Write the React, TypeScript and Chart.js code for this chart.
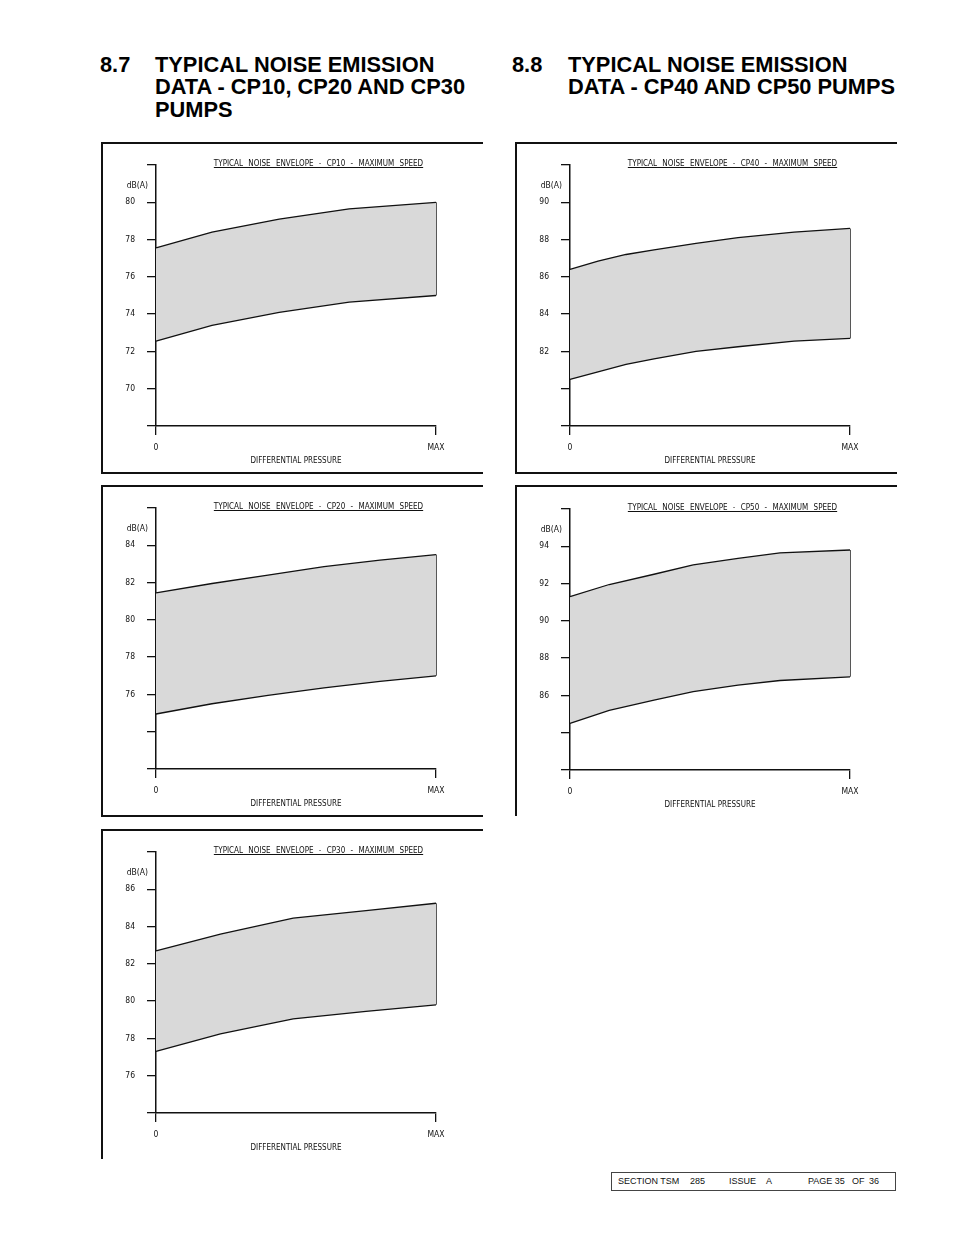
import React, { useEffect, useRef } from 'react';
import { Chart, registerables } from 'chart.js';

Chart.register(...registerables);

// ---- Data ----
const xTickLabels = ['0', 'MAX'];
const xAxisTitle = 'DIFFERENTIAL PRESSURE';
const yUnit = 'dB(A)';

const xCP10 = [0, 0.2, 0.44, 0.69, 1.0];
const upperCP10 = [77.55, 78.4, 79.1, 79.65, 80.0];
const lowerCP10 = [72.55, 73.4, 74.1, 74.65, 75.0];
const yRangeCP10 = [68, 82];
const yLabelsCP10 = [70, 72, 74, 76, 78, 80];

const xCP20 = [0, 0.2, 0.4, 0.6, 0.8, 1.0];
const upperCP20 = [81.45, 81.95, 82.4, 82.85, 83.2, 83.5];
const lowerCP20 = [74.95, 75.5, 75.95, 76.35, 76.7, 77.0];
const yRangeCP20 = [72, 86];
const yLabelsCP20 = [76, 78, 80, 82, 84];

const xCP30 = [0, 0.23, 0.49, 0.75, 1.0];
const upperCP30 = [82.7, 83.6, 84.45, 84.85, 85.25];
const lowerCP30 = [77.3, 78.25, 79.05, 79.45, 79.8];
const yRangeCP30 = [74, 88];
const yLabelsCP30 = [76, 78, 80, 82, 84, 86];

const xCP40 = [0, 0.1, 0.2, 0.3, 0.45, 0.6, 0.8, 1.0];
const upperCP40 = [86.4, 86.85, 87.2, 87.45, 87.8, 88.1, 88.4, 88.6];
const lowerCP40 = [80.5, 80.9, 81.3, 81.6, 82.0, 82.25, 82.55, 82.7];
const yRangeCP40 = [78, 92];
const yLabelsCP40 = [82, 84, 86, 88, 90];

const xCP50 = [0, 0.14, 0.3, 0.44, 0.6, 0.75, 1.0];
const upperCP50 = [91.3, 91.95, 92.5, 93.0, 93.35, 93.65, 93.8];
const lowerCP50 = [84.5, 85.2, 85.75, 86.2, 86.55, 86.8, 87.0];
const yRangeCP50 = [82, 96];
const yLabelsCP50 = [86, 88, 90, 92, 94];

// ---- Layout ----
const CAD_FONT = '"DejaVu Sans Condensed", "Liberation Sans Narrow", "DejaVu Sans", sans-serif';
const INK = '#111';
const FILL = '#d9d9d9';
const PAD_L = 54;
const PAD_T = 22;
const PLOT_W = 280;
const PLOT_H = 261;
const PAD_R = 48;
const PAD_B = 46;

type Spec = {
  pump: string;
  x: number[];
  upper: number[];
  lower: number[];
  yRange: number[];
  yLabels: number[];
  areaLeft: number;
  areaTop: number;
  frame: { x: number; y: number; w: number; h: number; bottom: boolean };
};

const specs: Spec[] = [
  { pump: 'CP10', x: xCP10, upper: upperCP10, lower: lowerCP10, yRange: yRangeCP10, yLabels: yLabelsCP10,
    areaLeft: 156, areaTop: 165, frame: { x: 102, y: 143, w: 382, h: 330, bottom: true } },
  { pump: 'CP40', x: xCP40, upper: upperCP40, lower: lowerCP40, yRange: yRangeCP40, yLabels: yLabelsCP40,
    areaLeft: 570, areaTop: 165, frame: { x: 516, y: 143, w: 382, h: 330, bottom: true } },
  { pump: 'CP20', x: xCP20, upper: upperCP20, lower: lowerCP20, yRange: yRangeCP20, yLabels: yLabelsCP20,
    areaLeft: 156, areaTop: 508, frame: { x: 102, y: 486, w: 382, h: 330, bottom: true } },
  { pump: 'CP50', x: xCP50, upper: upperCP50, lower: lowerCP50, yRange: yRangeCP50, yLabels: yLabelsCP50,
    areaLeft: 570, areaTop: 509, frame: { x: 516, y: 486, w: 382, h: 329, bottom: false } },
  { pump: 'CP30', x: xCP30, upper: upperCP30, lower: lowerCP30, yRange: yRangeCP30, yLabels: yLabelsCP30,
    areaLeft: 156, areaTop: 852, frame: { x: 102, y: 830, w: 382, h: 328, bottom: false } },
];

function NoiseChart({ spec }: { spec: Spec }) {
  const ref = useRef<HTMLCanvasElement>(null);

  useEffect(() => {
    if (!ref.current) return;
    const last = spec.x.length - 1;
    const font = { family: CAD_FONT, size: 8.5 };
    const titleFont = { family: CAD_FONT, size: 8 };
    const chart = new Chart(ref.current, {
      type: 'line',
      data: {
        datasets: [
          {
            data: spec.x.map((x, i) => ({ x, y: spec.upper[i] })),
            borderColor: INK, borderWidth: 1.3, pointRadius: 0, fill: false, tension: 0, clip: false,
          },
          {
            data: spec.x.map((x, i) => ({ x, y: spec.lower[i] })),
            borderColor: INK, borderWidth: 1.3, pointRadius: 0, fill: '-1', backgroundColor: FILL, tension: 0, clip: false,
          },
          {
            data: [{ x: spec.x[last], y: spec.upper[last] }, { x: spec.x[last], y: spec.lower[last] }],
            borderColor: INK, borderWidth: 1.4, pointRadius: 0, fill: false, clip: false,
          },
        ],
      },
      options: {
        animation: false,
        responsive: false,
        maintainAspectRatio: false,
        layout: { padding: { top: PAD_T, right: PAD_R, left: 0, bottom: 0 } },
        plugins: { legend: { display: false }, tooltip: { enabled: false }, title: { display: false } },
        scales: {
          x: {
            type: 'linear',
            min: 0,
            max: 1,
            afterBuildTicks: (s: any) => { s.ticks = [{ value: 0 }, { value: 1 }]; },
            afterFit: (s: any) => { s.height = PAD_B; },
            ticks: {
              autoSkip: false, maxRotation: 0, color: INK, font, padding: 8,
              callback: (v: any) => (v === 0 ? xTickLabels[0] : xTickLabels[1]),
            },
            grid: { drawOnChartArea: false, drawTicks: true, tickLength: 9, color: INK, lineWidth: 1.3 },
            border: { display: true, color: INK, width: 1.5 },
            title: { display: true, text: xAxisTitle, color: INK, font: titleFont, padding: { top: 0, bottom: 6 } },
          },
          y: {
            type: 'linear',
            min: spec.yRange[0],
            max: spec.yRange[1],
            afterFit: (s: any) => { s.width = PAD_L; },
            ticks: {
              stepSize: 2, color: INK, font, padding: 12,
              callback: (v: any) => (spec.yLabels.includes(Number(v)) ? String(v) : ''),
            },
            grid: { drawOnChartArea: false, drawTicks: true, tickLength: 9, color: INK, lineWidth: 1.3 },
            border: { display: true, color: INK, width: 1.5 },
          },
        },
      },
    } as any);
    return () => chart.destroy();
  }, [spec]);

  const { frame } = spec;
  const W = PAD_L + PLOT_W + PAD_R;
  const H = PAD_T + PLOT_H + PAD_B;
  const line = (s: React.CSSProperties) => (
    <div style={{ position: 'absolute', background: INK, ...s }} />
  );

  return (
    <>
      {line({ left: frame.x - 0.6, top: frame.y - 0.6, width: 1.2, height: frame.h + 1.2 })}
      {line({ left: frame.x - 0.6, top: frame.y - 0.6, width: frame.w, height: 1.2 })}
      {frame.bottom && line({ left: frame.x - 0.6, top: frame.y + frame.h - 0.6, width: frame.w, height: 1.2 })}
      <canvas
        ref={ref}
        width={W}
        height={H}
        style={{ position: 'absolute', left: spec.areaLeft - PAD_L, top: spec.areaTop - PAD_T, width: W, height: H }}
      />
      <div
        style={{
          position: 'absolute', left: spec.areaLeft + 162.5, top: spec.areaTop - 6.5,
          transform: 'translateX(-50%)', fontFamily: CAD_FONT, fontSize: 8, lineHeight: '10px',
          color: INK, whiteSpace: 'nowrap', textDecoration: 'underline', wordSpacing: 3,
        }}
      >
        {`TYPICAL NOISE ENVELOPE - ${spec.pump} - MAXIMUM SPEED`}
      </div>
      <div
        style={{
          position: 'absolute', left: spec.areaLeft - 18.7, top: spec.areaTop + 15,
          transform: 'translateX(-50%)', fontFamily: CAD_FONT, fontSize: 8.5, lineHeight: '10px',
          color: INK, whiteSpace: 'nowrap',
        }}
      >
        {yUnit}
      </div>
    </>
  );
}

const headingStyle: React.CSSProperties = {
  position: 'absolute',
  fontFamily: '"Liberation Sans", Arial, sans-serif',
  fontWeight: 'bold',
  fontSize: 21.8,
  lineHeight: '22.5px',
  color: '#000',
  whiteSpace: 'nowrap',
};

const footerText: React.CSSProperties = {
  position: 'absolute',
  top: 1176,
  fontFamily: '"Liberation Sans", Arial, sans-serif',
  fontSize: 9,
  lineHeight: '10px',
  color: '#111',
  whiteSpace: 'nowrap',
};

export default function App() {
  return (
    <div style={{ position: 'absolute', left: 0, top: 0, width: 954, height: 1235, background: '#fff', overflow: 'hidden' }}>
      <div style={{ ...headingStyle, left: 100, top: 53.5 }}>8.7</div>
      <div style={{ ...headingStyle, left: 155, top: 53.5 }}>
        TYPICAL NOISE EMISSION<br />DATA - CP10, CP20 AND CP30<br />PUMPS
      </div>
      <div style={{ ...headingStyle, left: 512, top: 53.5 }}>8.8</div>
      <div style={{ ...headingStyle, left: 568, top: 53.5 }}>
        TYPICAL NOISE EMISSION<br />DATA - CP40 AND CP50 PUMPS
      </div>

      {specs.map((s) => (
        <NoiseChart key={s.pump} spec={s} />
      ))}

      <div style={{ position: 'absolute', left: 611, top: 1171.5, width: 283, height: 17, border: '1.5px solid #444' }} />
      <div style={{ ...footerText, left: 618 }}>SECTION TSM</div>
      <div style={{ ...footerText, left: 690 }}>285</div>
      <div style={{ ...footerText, left: 729 }}>ISSUE</div>
      <div style={{ ...footerText, left: 766 }}>A</div>
      <div style={{ ...footerText, left: 808 }}>PAGE 35</div>
      <div style={{ ...footerText, left: 852 }}>OF</div>
      <div style={{ ...footerText, left: 869 }}>36</div>
    </div>
  );
}
